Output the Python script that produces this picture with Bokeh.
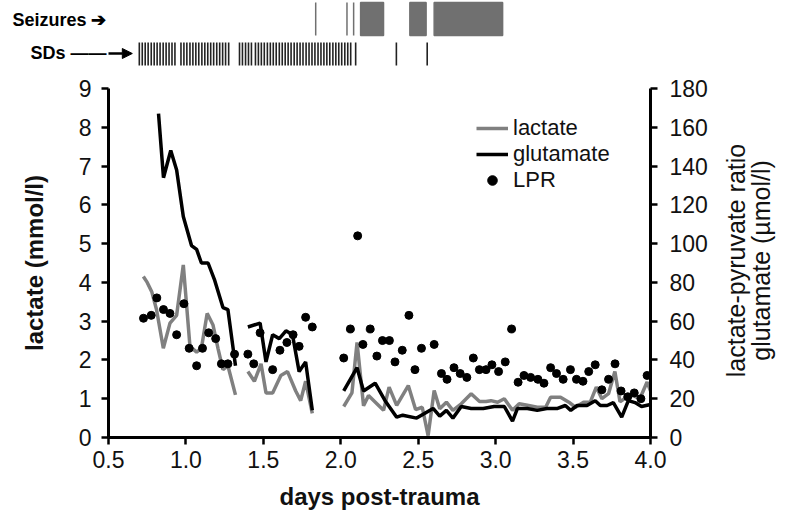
import math
from bokeh.plotting import figure
from bokeh.models import (Range1d, LinearAxis, FixedTicker, Legend, LegendItem,
                          Arrow, NormalHead, NumeralTickFormatter)
from bokeh.layouts import column
from bokeh.embed import file_html
from bokeh.resources import INLINE

NaN = float("nan")

# ---------------- data ----------------
# event bars (days post-trauma)
seizure_start = [1.838, 2.040, 2.083, 2.128, 2.446, 2.603]
seizure_end   = [1.838, 2.040, 2.083, 2.276, 2.551, 3.045]
sd_times = [0.699, 0.718, 0.737, 0.756, 0.776, 0.795, 0.814, 0.833, 0.853, 0.872,
            0.891, 0.910, 0.929, 0.968, 0.987, 1.006, 1.026, 1.045, 1.064, 1.083,
            1.103, 1.122, 1.141, 1.160, 1.179, 1.199, 1.218, 1.237, 1.256, 1.276,
            1.346, 1.365, 1.385, 1.404, 1.423, 1.449, 1.468, 1.487, 1.506, 1.526,
            1.545, 1.564, 1.583, 1.603, 1.622, 1.641, 1.660, 1.679, 1.699, 1.718,
            1.737, 1.756, 1.776, 1.795, 1.814, 1.833, 1.853, 1.872, 1.891, 1.910,
            1.929, 1.949, 1.968, 1.987, 2.006, 2.026, 2.045, 2.064, 2.096,
            2.359, 2.558]
strip_labels = {"Seizures ➔": 56, "SDs ——": 23}

# lactate (mmol/l), NaN = gap in recording
lactate_day = [0.725, 0.75, 0.78, 0.81, 0.854, 0.897, 0.94, 0.983, 1.026, 1.069,
               1.10, 1.137, 1.175, 1.207, 1.239, 1.271, 1.32, NaN,
               1.40, 1.442, 1.485, 1.517, 1.56, 1.613, 1.656, 1.709, 1.741, 1.773, 1.816, NaN,
               2.019, 2.072, 2.105, 2.147, 2.179, 2.233, 2.276, 2.312, 2.361, 2.436,
               2.483, 2.526, 2.564, 2.603, 2.639, 2.682, 2.724, 2.778, 2.842, 2.896,
               2.938, 2.970, 3.013, 3.056, 3.109, 3.152, 3.205, 3.269, 3.323, 3.355,
               3.419, 3.473, 3.515, 3.568, 3.611, 3.65, 3.686, 3.729, 3.77, 3.803,
               3.846, 3.889, 3.931, 3.978, 4.0]
lactate = [4.15, 4.0, 3.75, 3.3, 2.3, 2.95, 3.15, 4.45, 2.35, 2.2,
           2.3, 3.2, 2.9, 2.3, 1.75, 1.85, 1.1, NaN,
           1.7, 1.45, 1.9, 1.15, 1.15, 1.6, 1.7, 1.2, 0.95, 1.45, 0.62, NaN,
           0.8, 1.15, 2.45, 0.82, 1.08, 0.87, 0.70, 1.30, 0.83, 1.34,
           0.72, 0.78, 0.05, 1.21, 0.74, 0.91, 0.70, 0.87, 1.13, 0.93,
           0.93, 0.95, 0.91, 1.0, 0.70, 0.87, 0.83, 0.78, 0.78, 1.04,
           1.04, 0.91, 0.78, 0.91, 0.91, 1.30, 1.0, 1.13, 1.70, 0.92,
           1.04, 1.08, 1.0, 1.43, 1.2]

# glutamate (umol/l)
glutamate_day = [0.823, 0.855, 0.902, 0.94, 0.983, 1.036, 1.069, 1.10, 1.143, 1.186,
                 1.239, 1.271, 1.303, 1.32, NaN,
                 1.40, 1.479, 1.517, 1.56, 1.603, 1.646, 1.688, 1.731, 1.773, 1.816, NaN,
                 2.019, 2.105, 2.147, 2.222, 2.286, 2.361, 2.40, 2.49, 2.532, 2.596,
                 2.639, 2.682, 2.724, 2.778, 2.842, 2.92, 2.99, 3.056, 3.109, 3.141,
                 3.205, 3.269, 3.33, 3.40, 3.45, 3.485, 3.526, 3.59, 3.643, 3.676,
                 3.72, 3.76, 3.814, 3.857, 3.90, 3.942, 4.0]
glutamate = [167, 134, 148, 138, 114, 99, 97, 90, 90, 81,
             67, 66, 47, 37, NaN,
             57, 59, 39, 53, 51, 55, 53, 34, 39, 14, NaN,
             24, 36, 24, 28, 19, 10.5, 11.5, 10, 12, 15,
             11, 14, 10, 16, 15, 15, 16, 16, 8.4, 15,
             15, 14, 15, 15, 16.5, 14, 16.5, 16.5, 19, 16.5,
             16.5, 18, 10.5, 19, 18, 16, 17]

# lactate-pyruvate ratio
lpr_day = [0.726, 0.776, 0.812, 0.855, 0.897, 0.94, 0.987, 1.021, 1.069, 1.107,
           1.147, 1.192, 1.229, 1.271, 1.314, 1.40, 1.438, 1.479, 1.56, 1.607,
           1.652, 1.692, 1.731, 1.773, 1.816, 2.019, 2.062, 2.109, 2.143, 2.19,
           2.233, 2.269, 2.314, 2.35, 2.397, 2.44, 2.479, 2.521, 2.603, 2.65,
           2.686, 2.731, 2.771, 2.814, 2.856, 2.895, 2.938, 2.976, 3.019, 3.062,
           3.103, 3.145, 3.183, 3.226, 3.273, 3.312, 3.355, 3.393, 3.436, 3.483,
           3.522, 3.564, 3.601, 3.643, 3.686, 3.729, 3.771, 3.81, 3.853, 3.895,
           3.938, 3.978]
lpr = [61.5, 63, 72, 66, 64, 53, 69, 46, 37, 46,
       54, 51, 38, 38, 43, 43, 38, 54, 35, 45,
       49, 53, 47, 62, 57, 41, 56, 104, 48, 56,
       42, 50, 50, 39, 45, 63, 35, 46, 48, 33,
       30, 36, 33, 31, 41, 35, 35, 37.5, 34, 39,
       56, 28.5, 32, 31, 30, 28, 36, 33, 30, 35,
       30, 29, 34, 37.5, 24.6, 30, 38, 24, 21, 23,
       20, 32]

x_ticks = [0.5, 1.0, 1.5, 2.0, 2.5, 3.0, 3.5, 4.0]
left_ticks = [0, 1, 2, 3, 4, 5, 6, 7, 8, 9]
right_ticks = [0, 20, 40, 60, 80, 100, 120, 140, 160, 180]
right_title_lines = ["lactate-pyruvate ratio", "glutamate (µmol/l)"]

# ---------------- layout constants ----------------
FONT = "Liberation Sans"
W = 792
TOP_H = 75
MAIN_H = 443
LB, RB = 108, 138
X0, X1 = 0.5, 4.0
ppd = (W - LB - RB) / (X1 - X0)


def px2day(px):
    return X0 + (px - LB) / ppd


# ---------------- top event strip ----------------
top = figure(width=W, height=TOP_H, x_range=Range1d(X0, X1),
             y_range=Range1d(0, TOP_H), output_backend="svg", toolbar_location=None,
             min_border_left=LB, min_border_right=RB, min_border_top=0,
             min_border_bottom=0, x_axis_location=None, y_axis_location=None)
top.outline_line_color = None
top.grid.visible = False
top.quad(left=seizure_start, right=seizure_end, bottom=40, top=73,
         fill_color="#707070", line_color="#707070", line_width=1.5)
top.segment(x0=sd_times, y0=10, x1=sd_times, y1=33, line_color="#222222", line_width=1.6)

sax = LinearAxis(ticker=FixedTicker(ticks=list(strip_labels.values())),
                 major_label_overrides={v: k for k, v in strip_labels.items()})
sax.axis_line_color = None
sax.major_tick_line_color = None
sax.minor_tick_line_color = None
sax.major_tick_out = 0
sax.major_tick_in = 0
sax.major_label_standoff = 2
sax.major_label_text_font = FONT
sax.major_label_text_font_style = "bold"
sax.major_label_text_font_size = "18px"
sax.major_label_text_color = "black"
top.add_layout(sax, "left")
top.add_layout(Arrow(end=NormalHead(size=10, fill_color="black", line_color="black"),
                     x_start=px2day(100), y_start=22, x_end=px2day(132), y_end=22,
                     line_width=2.5, line_color="black"))

# ---------------- main chart ----------------
p = figure(width=W, height=MAIN_H, x_range=top.x_range, y_range=Range1d(0, 9),
           output_backend="svg", toolbar_location=None,
           min_border_left=LB, min_border_right=RB, min_border_top=13, min_border_bottom=81,
           x_axis_location=None, y_axis_location=None)
p.extra_y_ranges = {"right": Range1d(0, 180)}
p.outline_line_color = None
p.grid.visible = False


def style_axis(ax, tick_size="23px"):
    ax.axis_line_width = 3
    ax.axis_line_color = "black"
    ax.major_tick_line_width = 2.5
    ax.major_tick_line_color = "black"
    ax.major_tick_out = 7
    ax.major_tick_in = 0
    ax.minor_tick_out = 0
    ax.minor_tick_in = 0
    ax.major_label_text_font = FONT
    ax.major_label_text_font_size = tick_size
    ax.major_label_text_color = "#111111"
    ax.axis_label_text_font = FONT
    ax.axis_label_text_color = "#111111"


xax = LinearAxis(ticker=FixedTicker(ticks=x_ticks), formatter=NumeralTickFormatter(format="0.0"),
                 axis_label="days post-trauma")
style_axis(xax)
xax.major_label_standoff = 6
xax.axis_label_standoff = 12
xax.axis_label_text_font_style = "bold"
xax.axis_label_text_font_size = "24px"
p.add_layout(xax, "below")

lax = LinearAxis(ticker=FixedTicker(ticks=left_ticks), axis_label="lactate (mmol/l)")
style_axis(lax)
lax.major_label_standoff = 10
lax.axis_label_standoff = 28
lax.axis_label_text_font_style = "bold"
lax.axis_label_text_font_size = "24px"
p.add_layout(lax, "left")

rax = LinearAxis(y_range_name="right", ticker=FixedTicker(ticks=right_ticks))
style_axis(rax)
rax.major_label_standoff = 12
p.add_layout(rax, "right")

# right-hand title: two rotated lines, each drawn as the single label of a bare axis;
# the label starts at its tick and reads upwards
title_starts = [31.1, 39.6]
title_standoffs = [26, -6]
for line, start, standoff in zip(right_title_lines, title_starts, title_standoffs):
    tax = LinearAxis(y_range_name="right", ticker=FixedTicker(ticks=[start]),
                     major_label_overrides={start: line})
    tax.axis_line_color = None
    tax.major_tick_line_color = None
    tax.minor_tick_line_color = None
    tax.major_tick_out = 0
    tax.major_tick_in = 0
    tax.major_label_standoff = standoff
    tax.major_label_orientation = math.pi / 2
    tax.major_label_text_font = FONT
    tax.major_label_text_font_size = "25px"
    tax.major_label_text_color = "#111111"
    p.add_layout(tax, "right")

r_lac = p.line(lactate_day, lactate, line_color="#808080", line_width=3.5)
r_glu = p.line(glutamate_day, glutamate, line_color="black", line_width=3.5, y_range_name="right")
r_lpr = p.scatter(lpr_day, lpr, size=8, marker="circle", fill_color="black", line_color="black",
                  y_range_name="right")

legend = Legend(items=[LegendItem(label="lactate", renderers=[r_lac]),
                       LegendItem(label="glutamate", renderers=[r_glu]),
                       LegendItem(label="LPR", renderers=[r_lpr])],
                location=(368, 244), padding=0, spacing=0, margin=0,
                glyph_width=32, glyph_height=24, label_height=24, label_standoff=5,
                label_text_font=FONT, label_text_font_size="22px",
                label_text_color="#111111",
                background_fill_alpha=0, border_line_alpha=0)
p.add_layout(legend, "center")

layout = column(top, p, spacing=0)
open("out.html", "w").write(file_html(layout, INLINE))
